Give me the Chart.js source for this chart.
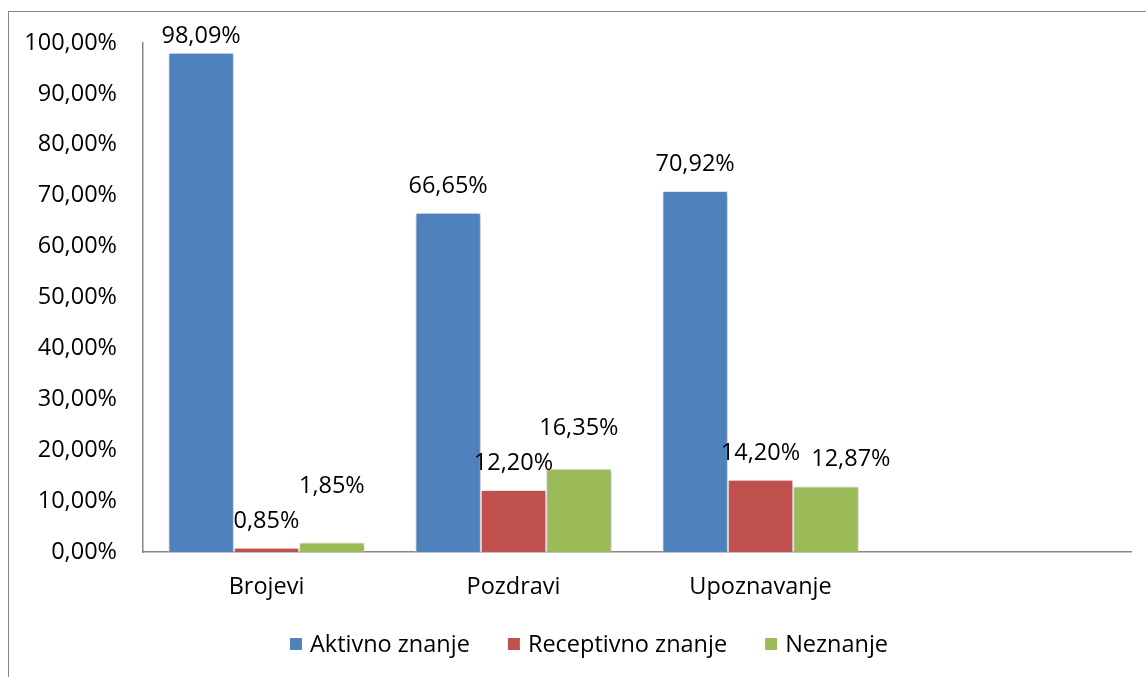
<!DOCTYPE html>
<html lang="hr">
<head>
<meta charset="utf-8">
<title>Aktivno znanje, receptivno znanje, neznanje</title>
<script src="https://cdn.jsdelivr.net/npm/chart.js@4.4.1/dist/chart.umd.min.js"></script>
<style>
    html, body { margin: 0; padding: 0; background: #fff; overflow: hidden; }
    #okvir {
        position: absolute; left: 8px; top: 11px;
        width: 1162px; height: 700px;
        border: 1px solid #868686; box-sizing: border-box;
    }
    #platno { position: absolute; left: 0; top: 0; width: 1146px; height: 677px; }
</style>
</head>
<body>
<div id="okvir"></div>
<div id="platno"><canvas id="grafikon" width="1146" height="677"></canvas></div>
<script>
(function () {
    'use strict';

    // podaci (postoci); zadnja kategorija je prazna
    const kategorije = ['Brojevi', 'Pozdravi', 'Upoznavanje', ''];
    const aktivnoZnanje = [98.09, 66.65, 70.92, null];
    const receptivnoZnanje = [0.85, 12.20, 14.20, null];
    const neznanje = [1.85, 16.35, 12.87, null];
    const nazivSerija = ['Aktivno znanje', 'Receptivno znanje', 'Neznanje'];
    const bojeSerija = ['#4f81bd', '#c0504d', '#9bbb59'];

    const FONT = '"Open Sans", "Noto Sans", sans-serif';
    const VELICINA = 23.5;

    // ručno pomaknute oznake vrijednosti [dx, dy] po seriji
    const pomakOznaka = [
        [[0, 10], [0, 0], [0, 0]],
        [[0, 0], [0, 0], [0, 0]],
        [[0, -30], [0, -14], [25, 0]],
    ];

    function postotak(v) {
        return Number(v).toFixed(2).replace('.', ',') + '%';
    }

    const sjenaIOznake = {
        id: 'sjenaIOznake',
        beforeDatasetsDraw(chart) {
            const ctx = chart.ctx;
            ctx.save();
            ctx.shadowColor = 'rgba(0, 0, 0, 0.28)';
            ctx.shadowBlur = 4;
            ctx.shadowOffsetX = 1;
            ctx.shadowOffsetY = 1;
        },
        afterDatasetsDraw(chart) {
            const ctx = chart.ctx;
            ctx.restore();
            ctx.save();
            ctx.font = `${VELICINA}px ${FONT}`;
            ctx.fillStyle = '#000';
            ctx.textAlign = 'center';
            ctx.textBaseline = 'alphabetic';
            chart.data.datasets.forEach((ds, i) => {
                const meta = chart.getDatasetMeta(i);
                meta.data.forEach((bar, j) => {
                    const v = ds.data[j];
                    if (v === null || v === undefined) return;
                    const pomak = (pomakOznaka[i] && pomakOznaka[i][j]) || [0, 0];
                    ctx.fillText(postotak(v), bar.x + pomak[0], bar.y - 20 + pomak[1]);
                });
            });
            ctx.restore();
        },
    };

    const legenda = {
        id: 'legenda',
        afterDraw(chart) {
            const ctx = chart.ctx;
            const kvadrat = 12;
            const razmak = 8;
            const izmedju = 38;
            const sredina = 589;
            const osnovica = 652;
            ctx.save();
            ctx.font = `${VELICINA}px ${FONT}`;
            const stavke = chart.data.datasets.map((ds) => ({
                tekst: ds.label,
                boja: ds.backgroundColor,
                sirina: kvadrat + razmak + ctx.measureText(ds.label).width,
            }));
            const ukupno = stavke.reduce((s, st) => s + st.sirina, 0) + izmedju * (stavke.length - 1);
            let x = sredina - ukupno / 2;
            stavke.forEach((st) => {
                ctx.fillStyle = st.boja;
                ctx.fillRect(x, osnovica - 14, kvadrat, kvadrat);
                ctx.fillStyle = '#000';
                ctx.textAlign = 'left';
                ctx.textBaseline = 'alphabetic';
                ctx.fillText(st.tekst, x + kvadrat + razmak, osnovica);
                x += st.sirina + izmedju;
            });
            ctx.restore();
        },
    };

    const serije = [aktivnoZnanje, receptivnoZnanje, neznanje].map((podaci, i) => ({
        label: nazivSerija[i],
        data: podaci,
        backgroundColor: bojeSerija[i],
        borderColor: '#f4f4f4',
        borderWidth: 1,
        categoryPercentage: 0.794,
        barPercentage: 1.0,
    }));

    new Chart(document.getElementById('grafikon'), {
        type: 'bar',
        data: { labels: kategorije, datasets: serije },
        plugins: [sjenaIOznake, legenda],
        options: {
            responsive: false,
            devicePixelRatio: 1,
            animation: false,
            layout: { padding: { left: 0, right: 15, top: 43, bottom: 0 } },
            plugins: {
                legend: { display: false },
                tooltip: { enabled: false },
            },
            scales: {
                x: {
                    grid: { display: false, drawTicks: false },
                    border: { display: true, color: '#868686', width: 1.5 },
                    ticks: {
                        color: '#000',
                        padding: 21,
                        font: { family: FONT, size: VELICINA },
                    },
                    afterFit(scale) { scale.height = 125; },
                },
                y: {
                    min: 0,
                    max: 100,
                    grid: { display: false, drawTicks: false },
                    border: { display: true, color: '#868686', width: 1.5 },
                    ticks: {
                        stepSize: 10,
                        color: '#000',
                        padding: 26,
                        font: { family: FONT, size: VELICINA },
                        callback: (v) => postotak(v),
                    },
                    afterFit(scale) { scale.width = 143; },
                },
            },
        },
    });
})();
</script>
</body>
</html>
